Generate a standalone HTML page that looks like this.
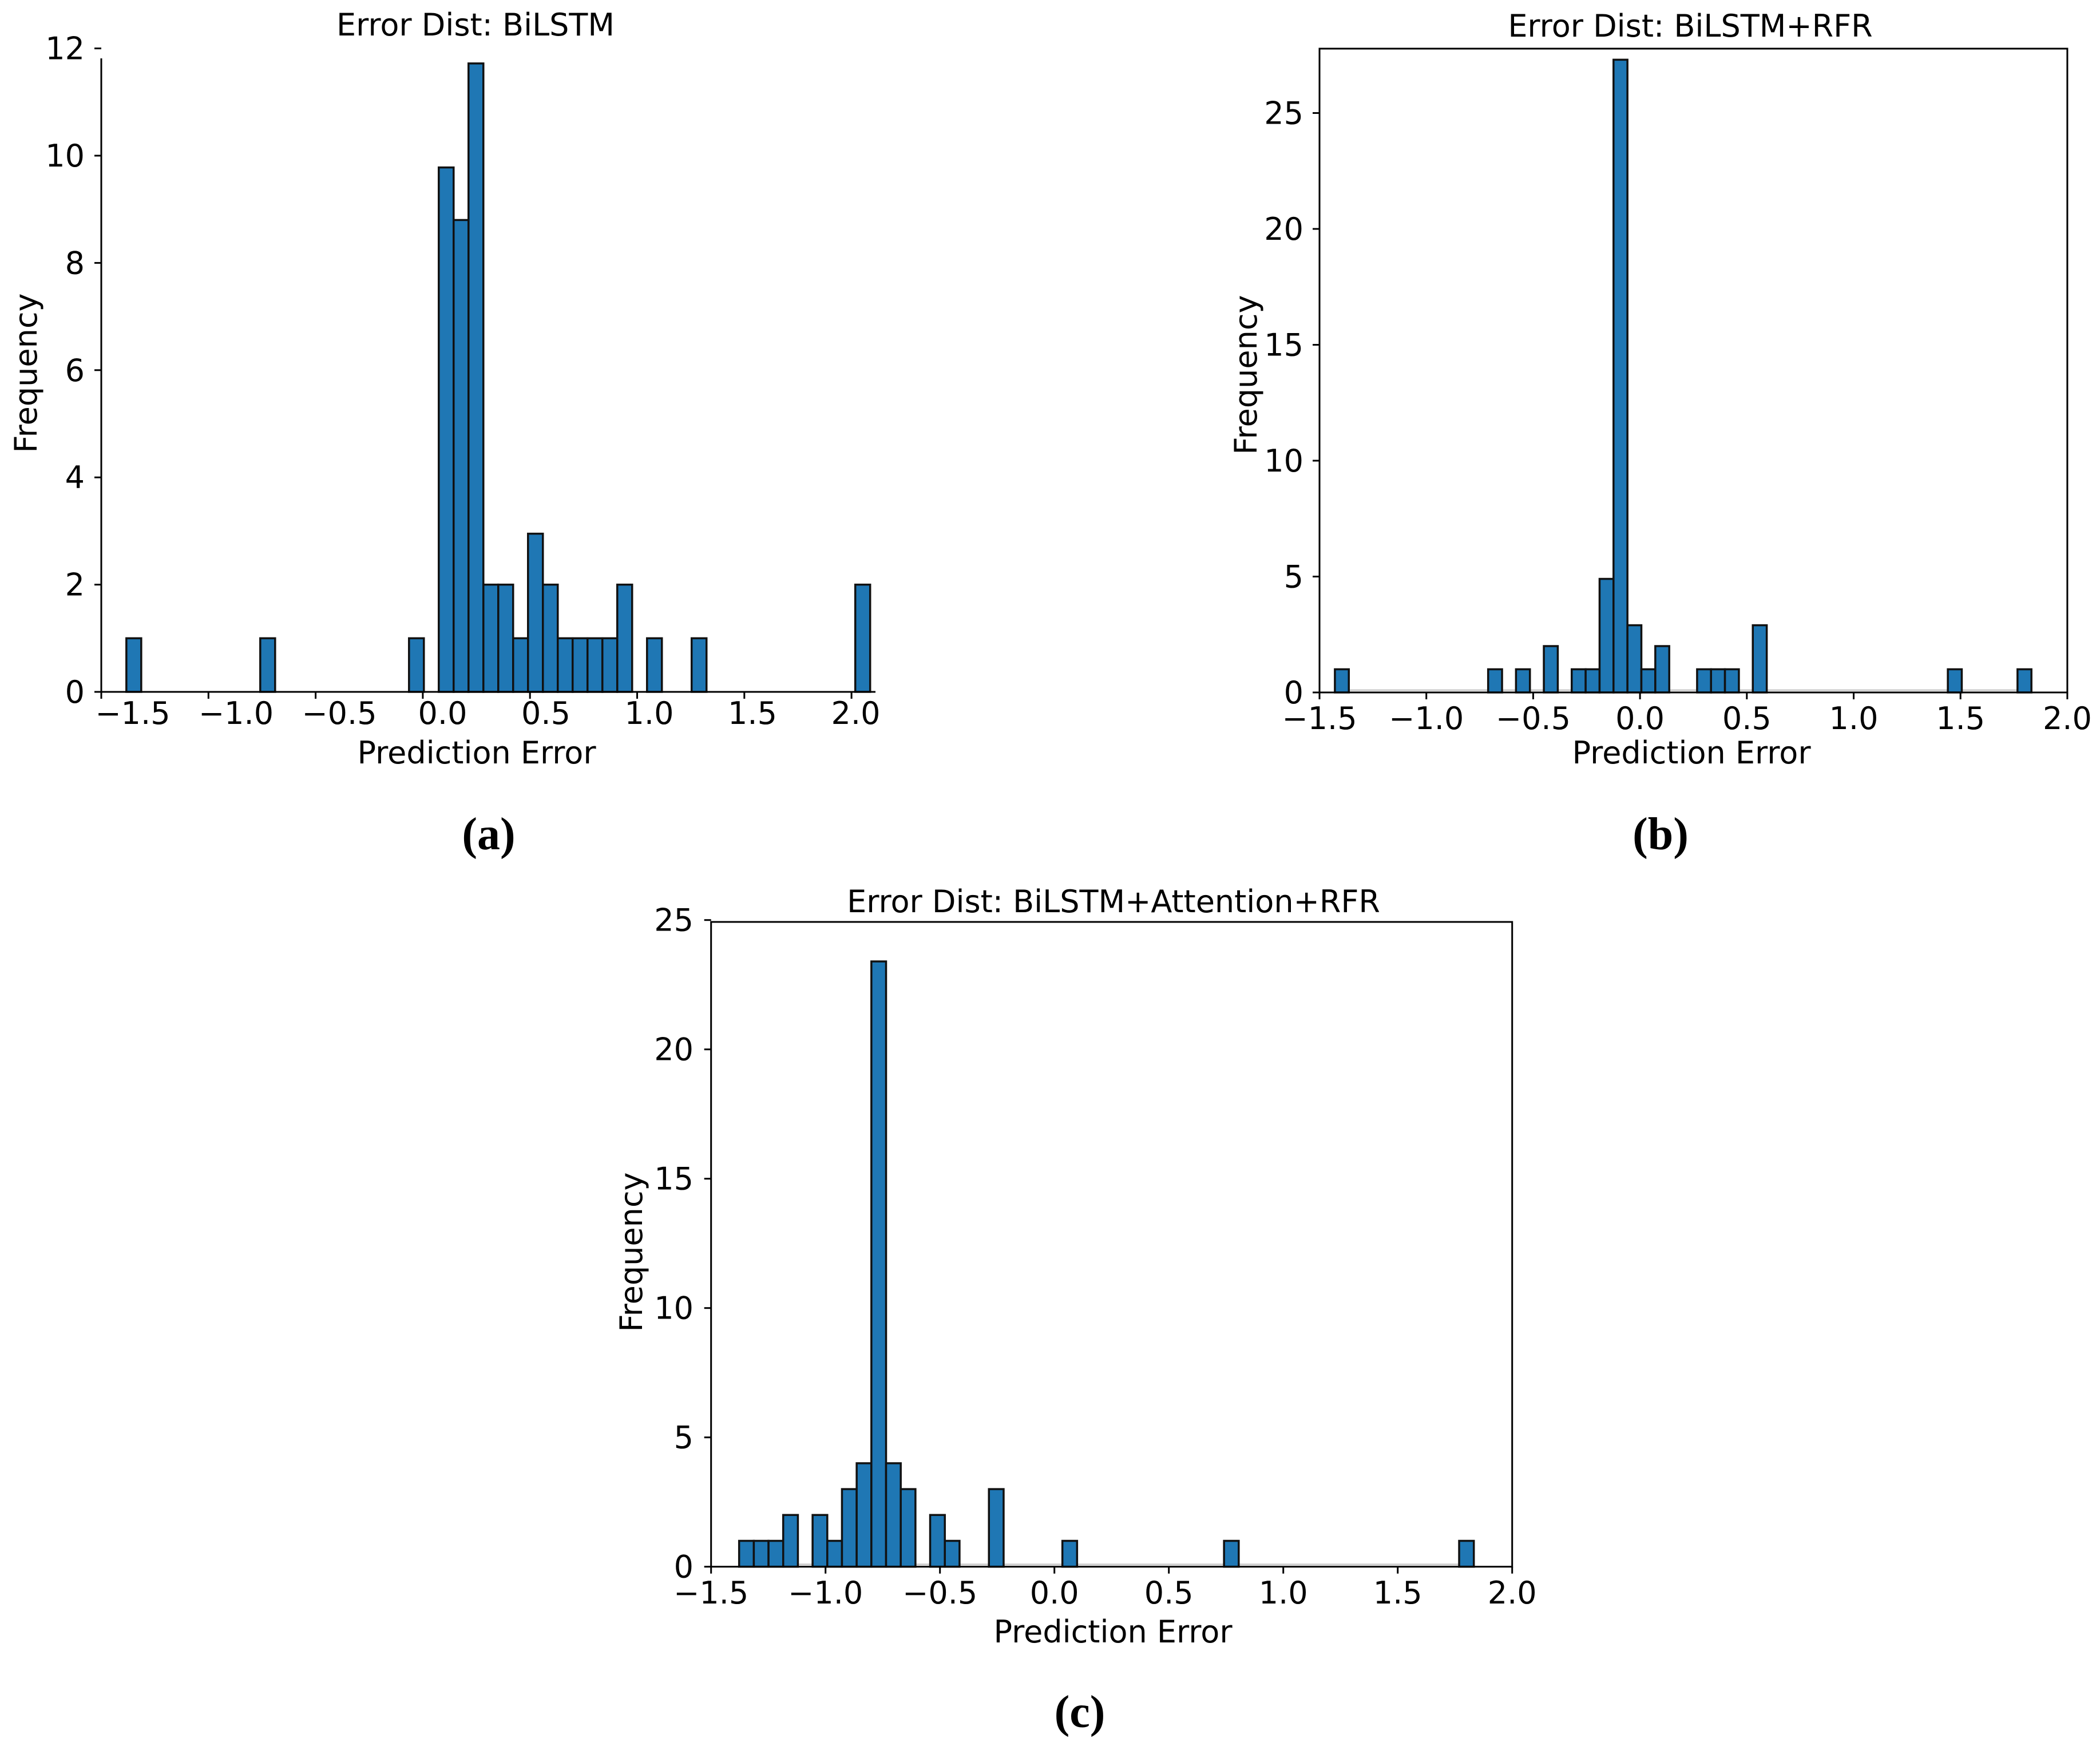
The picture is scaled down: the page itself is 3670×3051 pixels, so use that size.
<!DOCTYPE html>
<html><head><meta charset="utf-8"><style>
html,body{margin:0;padding:0;background:#fff;}
svg{display:block;}
text{font-family:"DejaVu Sans","Liberation Sans",sans-serif;fill:#000;}
.cap{font-family:"Liberation Serif",serif;font-weight:bold;}
</style></head><body>
<svg id="fig" width="3670" height="3051" viewBox="0 0 3670 3051" xmlns="http://www.w3.org/2000/svg">
<rect width="3670" height="3051" fill="#fff"/>
</svg>
<script>
// ---- data (a) BiLSTM ----
const aBinStart = -1.383, aBinWidth = 0.0694;
const aBins   = [0, 9, 19, 21, 22, 23, 24, 25, 26, 27, 28, 29, 30, 31, 32, 33, 35, 38, 49];
const aCounts = [1, 1, 1, 9.78, 8.8, 11.72, 2, 2, 1, 2.95, 2, 1, 1, 1, 1, 2, 1, 1, 2];
const aYTicks = [0, 2, 4, 6, 8, 10, 12];
const aXTicks = [-1.5, -1.0, -0.5, 0.0, 0.5, 1.0, 1.5, 2.0];
// ---- data (b) BiLSTM+RFR ----
const bBinStart = -1.428, bBinWidth = 0.0652;
const bBins   = [0, 11, 13, 15, 17, 18, 19, 20, 21, 22, 23, 26, 27, 28, 30, 44, 49];
const bCounts = [1, 1, 1, 2, 1, 1, 4.9, 27.3, 2.9, 1, 2, 1, 1, 1, 2.9, 1, 1];
const bYTicks = [0, 5, 10, 15, 20, 25];
const bXTicks = [-1.5, -1.0, -0.5, 0.0, 0.5, 1.0, 1.5, 2.0];
// ---- data (c) BiLSTM+Attention+RFR ----
const cBinStart = -1.3775, cBinWidth = 0.0642;
const cBins   = [0, 1, 2, 3, 5, 6, 7, 8, 9, 10, 11, 13, 14, 17, 22, 33, 49];
const cCounts = [1, 1, 1, 2, 2, 1, 3, 4, 23.4, 4, 3, 2, 1, 3, 1, 1, 1];
const cYTicks = [0, 5, 10, 15, 20, 25];
const cXTicks = [-1.5, -1.0, -0.5, 0.0, 0.5, 1.0, 1.5, 2.0];

const NS = "http://www.w3.org/2000/svg";
const svg = document.getElementById('fig');
const FS = 54;
function mk(tag, attrs, parent, txt) {
  const e = document.createElementNS(NS, tag);
  for (const k in attrs) e.setAttribute(k, attrs[k]);
  if (txt !== undefined) e.textContent = txt;
  (parent || svg).appendChild(e);
  return e;
}
function fmt(v){ const s = v.toFixed(1); return v < 0 ? '\u2212' + s.slice(1) : s; }

function drawHist(p) {
  const g = mk('g', {});
  
  
  const X = v => p.x0 + (v - p.xmin) * p.xu;
  const Y = c => p.y0 - c * p.yu;
  const LX = v => p.lx0 + (v - p.xmin) * p.lxu;
  if (p.gray) {
    const gl = mk('line', {x1: X(p.binStart), x2: X(p.binStart + 50*p.binWidth), y1: p.y0-4, y2: p.y0-4, stroke:'#ccc', 'stroke-width':3}, g);
    
    
  }
  p.bins.forEach((b, i) => {
    const xl = X(p.binStart + b * p.binWidth);
    const w = p.binWidth * p.xu;
    const h = p.counts[i] * p.yu;
    const r = mk('rect', {x: xl, y: p.y0 - h, width: w, height: h, fill: '#1f77b4', stroke: '#111', 'stroke-width': 3.5}, g);
    
    
  });
  if (p.box) {
    const fr = mk('rect', {x: p.x0, y: p.yTop, width: X(p.xmax) - p.x0, height: p.y0 - p.yTop, fill: 'none', stroke: '#000', 'stroke-width': 3}, g);
    
    
  } else {
    const ys = mk('line', {x1: p.x0, x2: p.x0, y1: p.yTop, y2: p.y0, stroke: '#000', 'stroke-width': 3}, g);
    
    
    const xs = mk('line', {x1: p.x0, x2: p.xEnd, y1: p.y0, y2: p.y0, stroke: '#000', 'stroke-width': 3}, g);
    
    
  }
  p.yTicks.forEach(t => {
    const y = Y(t);
    const tl = mk('line', {x1: p.x0 - 12, x2: p.x0, y1: y, y2: y, stroke: '#000', 'stroke-width': 3}, g);
    
    
    const tx = mk('text', {x: p.ylx, y: y + 19, 'text-anchor': 'end', 'font-size': FS}, g, String(t));
    
    
  });
  p.xTicks.forEach(t => {
    const x = X(t);
    const tl = mk('line', {x1: x, x2: x, y1: p.y0, y2: p.y0 + 12, stroke: '#000', 'stroke-width': 3}, g);
    
    
    const tx = mk('text', {x: LX(t), y: p.xlBase, 'text-anchor': 'middle', 'font-size': FS}, g, fmt(t));
    
    
  });
  const ti = mk('text', {x: p.titleX, y: p.titleY, 'text-anchor': 'middle', 'font-size': FS}, g, p.title);
  
  
  const xl = mk('text', {x: p.xlabX, y: p.xlabY, 'text-anchor': 'middle', 'font-size': FS}, g, 'Prediction Error');
  
  
  const yl = mk('text', {x: 0, y: 0, 'text-anchor': 'middle', 'font-size': FS, transform: 'translate(' + p.ylabX + ',' + p.ylabY + ') rotate(-90)'}, g, 'Frequency');
  
  
  const cp = mk('text', {x: p.capX, y: p.capY, 'text-anchor': 'middle', 'font-size': 80, 'class': 'cap'}, g, p.cap);
  
  
}

drawHist({name: 'histogram-bilstm', bins: aBins, counts: aCounts, binStart: aBinStart, binWidth: aBinWidth,
  yTicks: aYTicks, xTicks: aXTicks, xmin: -1.5, xmax: 2.0, x0: 177, xu: 374.6, y0: 1209, yu: 93.7, yTop: 102,
  xEnd: 1530, lx0: 232, lxu: 361, ylx: 148, xlBase: 1265, box: false, gray: false,
  title: 'Error Dist: BiLSTM', titleX: 831, titleY: 62, xlabX: 833, xlabY: 1334, ylabX: 64, ylabY: 652,
  cap: '(a)', capX: 854, capY: 1484});
drawHist({name: 'histogram-bilstm-rfr', bins: bBins, counts: bCounts, binStart: bBinStart, binWidth: bBinWidth,
  yTicks: bYTicks, xTicks: bXTicks, xmin: -1.5, xmax: 2.0, x0: 2306, xu: 373.4, y0: 1210, yu: 40.5, yTop: 85,
  lx0: 2306, lxu: 373.4, ylx: 2278, xlBase: 1274, box: true, gray: true,
  title: 'Error Dist: BiLSTM+RFR', titleX: 2954, titleY: 64, xlabX: 2956, xlabY: 1334, ylabX: 2196, ylabY: 655,
  cap: '(b)', capX: 2902, capY: 1484});
drawHist({name: 'histogram-bilstm-attention-rfr', bins: cBins, counts: cCounts, binStart: cBinStart, binWidth: cBinWidth,
  yTicks: cYTicks, xTicks: cXTicks, xmin: -1.5, xmax: 2.0, x0: 1242.7, xu: 400, y0: 2737.7, yu: 45.2, yTop: 1611,
  lx0: 1242.7, lxu: 400, ylx: 1212, xlBase: 2802, box: true, gray: true,
  title: 'Error Dist: BiLSTM+Attention+RFR', titleX: 1946, titleY: 1594, xlabX: 1945, xlabY: 2870, ylabX: 1122, ylabY: 2188,
  cap: '(c)', capX: 1887, capY: 3018});
</script>
</body></html>
